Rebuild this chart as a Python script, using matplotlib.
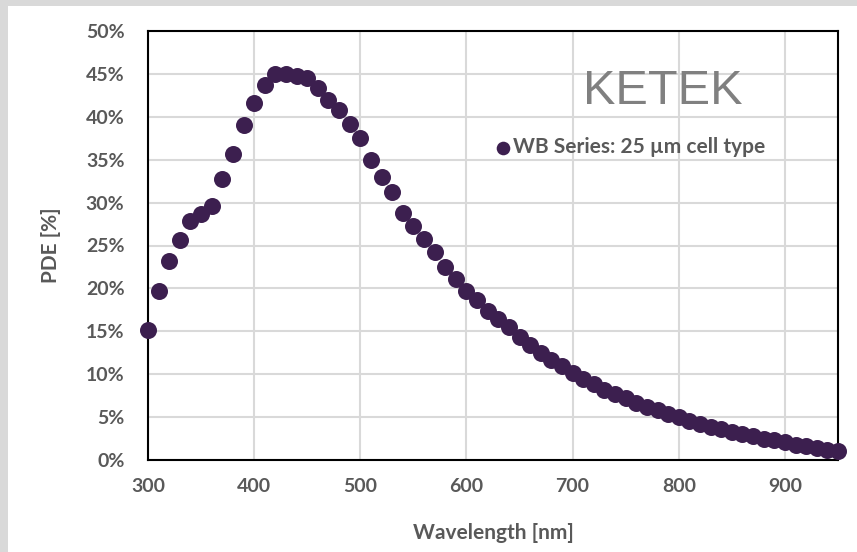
import matplotlib.pyplot as plt
import matplotlib.patches as patches
from matplotlib.ticker import FuncFormatter

# wavelength [nm] and PDE [%]
wavelength = list(range(300, 951, 10))
pde = [15.1, 19.7, 23.2, 25.6, 27.9, 28.7, 29.6, 32.7, 35.7, 39.1,
       41.6, 43.7, 45.0, 45.0, 44.8, 44.5, 43.4, 42.0, 40.8, 39.2,
       37.5, 35.0, 33.0, 31.2, 28.8, 27.3, 25.8, 24.3, 22.5, 21.1,
       19.7, 18.6, 17.4, 16.4, 15.5, 14.3, 13.4, 12.5, 11.7, 10.9,
       10.1, 9.4, 8.8, 8.2, 7.7, 7.2, 6.7, 6.2, 5.8, 5.4,
       5.0, 4.6, 4.2, 3.9, 3.6, 3.3, 3.0, 2.8, 2.5, 2.3,
       2.1, 1.8, 1.6, 1.4, 1.2, 1.0]
series_name = 'WB Series: 25 \u00b5m cell type'
x_ticks = [300, 400, 500, 600, 700, 800, 900]
y_ticks = [0, 5, 10, 15, 20, 25, 30, 35, 40, 45, 50]

dot = '#3c1f4f'
txt = '#595959'
font = 'Lato'

fig = plt.figure(figsize=(8.57, 5.52), dpi=100, facecolor='#d9d9d9')
# white panel, grey strip only on top and left
fig.patches.append(patches.Rectangle((8 / 857, 0), 1, (552 - 6) / 552,
                                     transform=fig.transFigure,
                                     facecolor='white', edgecolor='none', zorder=-10))

ax = fig.add_axes([148 / 857, 92 / 552, 690 / 857, 429 / 552])
ax.set_facecolor('white')
ax.scatter(wavelength, pde, s=150, color=dot, zorder=3, clip_on=False,
           linewidths=0, label=series_name)

ax.set_xlim(300, 950)
ax.set_ylim(0, 50)
ax.set_xticks(x_ticks)
ax.set_yticks(y_ticks)
ax.yaxis.set_major_formatter(FuncFormatter(lambda v, p: f'{v:.0f}%'))
ax.grid(True, color='#d9d9d9', linewidth=1.5)
ax.set_axisbelow(True)
for s in ax.spines.values():
    s.set_color('black')
    s.set_linewidth(1.5)
ax.tick_params(length=0, labelsize=14, labelcolor=txt)
ax.tick_params(axis='y', pad=17)
ax.tick_params(axis='x', pad=13)
for lab in ax.get_xticklabels() + ax.get_yticklabels():
    lab.set_fontfamily(font)
    lab.set_fontweight('bold')

ax.set_xlabel('Wavelength [nm]', fontsize=15, fontweight='bold', color=txt,
              fontfamily=font, labelpad=20)
ax.set_ylabel('PDE [%]', fontsize=15, fontweight='bold', color=txt,
              fontfamily=font, labelpad=18)

ax.text(785, 42.9, 'KETEK', fontsize=35, color='#808080',
        fontfamily='Liberation Sans', ha='center', va='center')

leg = ax.legend(loc='center left', bbox_to_anchor=(494 / 857, (552 - 147) / 552),
                bbox_transform=fig.transFigure, frameon=False,
                handlelength=0.9, handletextpad=0.0, borderpad=0, borderaxespad=0,
                markerscale=0.8, prop={'family': font, 'weight': 'bold', 'size': 15})
for t in leg.get_texts():
    t.set_color(txt)

fig.savefig('out.png', dpi=100, facecolor=fig.get_facecolor())
